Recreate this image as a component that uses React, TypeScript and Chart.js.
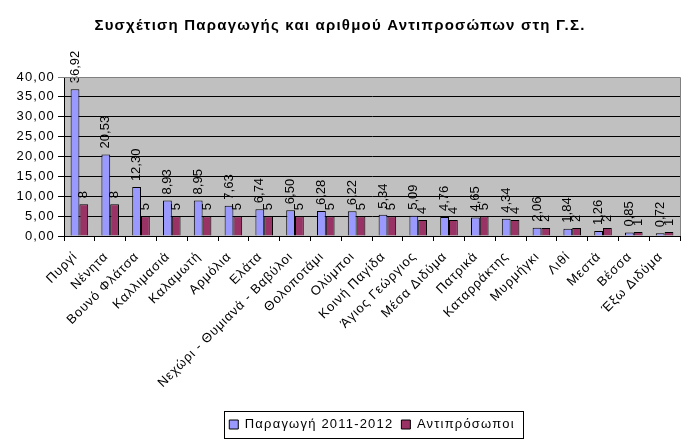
import { useEffect, useRef } from "react";
import { Chart, registerables } from "chart.js";
import type { Plugin } from "chart.js";

Chart.register(...registerables);

const villages = [
  "Πυργί",
  "Νένητα",
  "Βουνό Φλάτσα",
  "Καλλιμασιά",
  "Καλαμωτή",
  "Αρμόλια",
  "Ελάτα",
  "Νεχώρι - Θυμιανά - Βαβύλοι",
  "Θολοποτάμι",
  "Ολύμποι",
  "Κοινή Παγίδα",
  "Άγιος Γεώργιος",
  "Μέσα Διδύμα",
  "Πατρικά",
  "Καταρράκτης",
  "Μυρμήγκι",
  "Λιθί",
  "Μεστά",
  "Βέσσα",
  "Έξω Διδύμα",
];

const production = [36.92, 20.53, 12.3, 8.93, 8.95, 7.63, 6.74, 6.5, 6.28, 6.22, 5.34, 5.09, 4.76, 4.65, 4.34, 2.06, 1.84, 1.26, 0.85, 0.72];
const representatives = [8, 8, 5, 5, 5, 5, 5, 5, 5, 5, 5, 4, 4, 5, 4, 2, 2, 2, 1, 1];

const FONT = "'Liberation Sans', Arial, sans-serif";

const fmt = (v: number) => v.toFixed(2).replace(".", ",");

// the original text is a bit wider than Arial, so space the letters out a little
const spacing: Plugin = {
  id: "spacing",
  beforeInit(chart) { (chart.ctx as any).letterSpacing = "1.2px"; },
  beforeLayout(chart) { (chart.ctx as any).letterSpacing = "1.2px"; },
  beforeDraw(chart) { (chart.ctx as any).letterSpacing = "1.2px"; },
};

// gray plot background + top/right border
const plotBg: Plugin = {
  id: "plotBg",
  beforeDraw(chart) {
    const { ctx, chartArea: a } = chart;
    ctx.save();
    ctx.fillStyle = "#c0c0c0";
    ctx.fillRect(a.left, a.top, a.right - a.left, a.bottom - a.top);
    ctx.restore();
  },
  afterDraw(chart) {
    const { ctx, chartArea: a } = chart;
    ctx.save();
    ctx.strokeStyle = "#808080";
    ctx.lineWidth = 1;
    ctx.beginPath();
    ctx.moveTo(a.left, a.top + 0.5);
    ctx.lineTo(a.right + 0.5, a.top + 0.5);
    ctx.lineTo(a.right + 0.5, a.bottom);
    ctx.stroke();
    ctx.restore();
  },
};

// vertical value labels above the bars
const barLabels: Plugin = {
  id: "barLabels",
  afterDatasetsDraw(chart) {
    const { ctx } = chart;
    ctx.save();
    (ctx as any).letterSpacing = "0px";
    ctx.font = `13px ${FONT}`;
    ctx.fillStyle = "#000";
    ctx.textAlign = "left";
    ctx.textBaseline = "middle";
    chart.data.datasets.forEach((ds, di) => {
      const meta = chart.getDatasetMeta(di);
      meta.data.forEach((bar: any, i) => {
        const v = ds.data[i] as number;
        const text = di === 0 ? fmt(v) : String(v);
        ctx.save();
        ctx.translate(bar.x, bar.y - 6);
        ctx.rotate(-Math.PI / 2);
        ctx.fillText(text, 0, 0);
        ctx.restore();
      });
    });
    ctx.restore();
  },
};

// box around the legend
const legendBorder: Plugin = {
  id: "legendBorder",
  afterDraw(chart) {
    const lg: any = chart.legend;
    if (!lg || !lg.legendHitBoxes?.length) return;
    const boxes = lg.legendHitBoxes;
    const left = Math.min(...boxes.map((b: any) => b.left));
    const right = Math.max(...boxes.map((b: any) => b.left + b.width));
    const top = Math.min(...boxes.map((b: any) => b.top));
    const bottom = Math.max(...boxes.map((b: any) => b.top + b.height));
    const { ctx } = chart;
    ctx.save();
    ctx.strokeStyle = "#000";
    ctx.lineWidth = 1;
    ctx.strokeRect(Math.round(left - 5) + 0.5, Math.round(top - 7) + 0.5, Math.round(right - left + 14), Math.round(bottom - top + 14));
    ctx.restore();
  },
};

// category labels get a slightly smaller letter spacing
function xLabelSpacing(s: any) {
  s.height = 174;
  if (s._xSpacing) return;
  s._xSpacing = true;
  const orig = s.drawLabels.bind(s);
  s.drawLabels = (area: any) => {
    const c = s.ctx;
    const prev = c.letterSpacing;
    c.letterSpacing = "0.9px";
    orig(area);
    c.letterSpacing = prev;
  };
}

export default function App() {
  const canvasRef = useRef<HTMLCanvasElement>(null);
  const chartRef = useRef<Chart | null>(null);

  useEffect(() => {
    document.body.style.margin = "0";
    if (!canvasRef.current) return;
    chartRef.current?.destroy();

    chartRef.current = new Chart(canvasRef.current, {
      type: "bar",
      data: {
        labels: villages,
        datasets: [
          {
            label: "Παραγωγή 2011-2012",
            data: production,
            backgroundColor: "#9999ff",
            borderColor: "#000",
            borderWidth: 1,
            categoryPercentage: 0.57,
            barPercentage: 1,
          },
          {
            label: "Αντιπρόσωποι",
            data: representatives,
            backgroundColor: "#993366",
            borderColor: "#000",
            borderWidth: 1,
            categoryPercentage: 0.57,
            barPercentage: 1,
          },
        ],
      },
      options: {
        responsive: false,
        animation: false,
        layout: { padding: { left: 0, right: 13, top: 0, bottom: 1 } },
        plugins: {
          title: {
            display: true,
            text: "Συσχέτιση Παραγωγής και αριθμού Αντιπροσώπων στη Γ.Σ.",
            color: "#000",
            font: { family: FONT, size: 15, weight: "bold" },
            padding: { top: 17, bottom: 42 },
          },
          legend: {
            position: "bottom",
            fullSize: false,
            labels: {
              color: "#000",
              font: { family: FONT, size: 13 },
              boxWidth: 9,
              boxHeight: 9,
              padding: 8,
            },
          },
          tooltip: { enabled: false },
        },
        scales: {
          x: {
            grid: { drawOnChartArea: false, color: "#000", tickLength: 5 },
            border: { color: "#000" },
            ticks: {
              color: "#000",
              font: { family: FONT, size: 13 },
              minRotation: 45,
              maxRotation: 45,
              autoSkip: false,
              padding: 8,
              labelOffset: -4,
            },
            afterFit: xLabelSpacing,
          },
          y: {
            min: 0,
            max: 40,
            grid: { color: (c: any) => (c.tick?.value === 40 ? "#808080" : "#000"), tickLength: 6 },
            border: { color: "#000" },
            ticks: {
              stepSize: 5,
              color: "#000",
              font: { family: FONT, size: 13 },
              padding: 3,
              callback: (v: any) => fmt(Number(v)),
            },
            afterFit: (s: any) => { s.width = 64; },
          },
        },
      },
      plugins: [spacing, plotBg, barLabels, legendBorder],
    });

    return () => { chartRef.current?.destroy(); };
  }, []);

  return (
    <div style={{ width: 693, height: 442 }}>
      <canvas ref={canvasRef} width={693} height={442} />
    </div>
  );
}
